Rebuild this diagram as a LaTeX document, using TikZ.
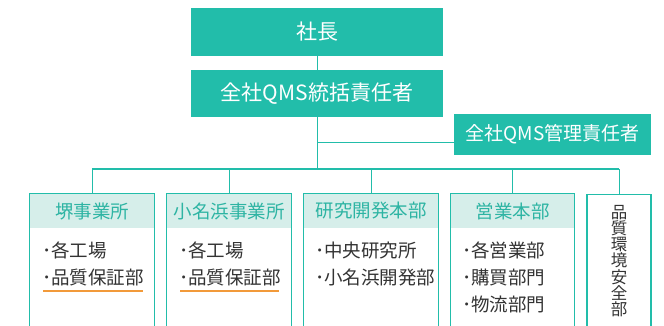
\documentclass[tikz,border=0pt]{standalone}
\usepackage{fontspec}
\setmainfont{Noto Sans CJK JP}
\definecolor{qmsteal}{HTML}{22BDAA}
\definecolor{headbg}{HTML}{D6EEEA}
\definecolor{headtxt}{HTML}{2DB4A3}
\definecolor{itemtxt}{HTML}{333333}
\definecolor{markline}{HTML}{F29A3A}
\tikzset{
	topbox/.style={fill=qmsteal, text=white, minimum width=252pt, inner sep=0pt},
	link/.style={draw=qmsteal, line width=1pt},
	depthead/.style={fill=headbg, text=headtxt, minimum width=124pt, minimum height=34pt, inner sep=0pt, font=\fontsize{18.5}{20}\selectfont},
	deptframe/.style={draw=qmsteal, line width=1.2pt},
	items/.style={text=itemtxt, align=left, inner sep=0pt, anchor=north west, font=\fontsize{18.5}{27}\selectfont},
	underline/.style={draw=markline, line width=1.4pt}
}
\begin{document}
\begin{tikzpicture}[x=1pt,y=-1pt]
	\clip (0,0) rectangle (664,326);
	\fill[white] (0,0) rectangle (664,326);

	% top of the chart
	\node[topbox, minimum height=48pt, font=\fontsize{21}{24}\selectfont] (boss) at (317,32) {社長};
	\node[topbox, minimum height=47pt, font=\fontsize{21}{24}\selectfont] (qms) at (317,93.5) {全社QMS統括責任者};
	\node[fill=qmsteal, text=white, minimum width=197pt, minimum height=41pt, inner sep=0pt, font=\fontsize{19}{22}\selectfont] (mgr) at (552.5,134.5) {全社QMS管理責任者};
	\coordinate (tap) at (317,143);
	\coordinate (bus) at (317,169);

	% departments
	\node[depthead] (sakai) at (92,211) {\raisebox{-1pt}{堺事業所}};
	\node[depthead] (onahama) at (229,211) {\raisebox{-1pt}{小名浜事業所}};
	\node[depthead, minimum width=134pt] (kenkyu) at (371,211) {\raisebox{-1pt}{研究開発本部}};
	\node[depthead, minimum width=123pt] (eigyo) at (512.5,211) {\raisebox{-1pt}{営業本部}};
	\node[deptframe, minimum width=64pt, minimum height=160pt, anchor=north] (hinshitsu) at (619,194) {};
	\foreach \n in {sakai,onahama,kenkyu,eigyo}
		\draw[deptframe] (\n.north west) rectangle ([yshift=-130pt]\n.south east);
	\node[text=itemtxt, align=center, inner sep=0pt, font=\fontsize{16.5}{16.2}\selectfont] (hinshitsutxt) at (619,261) {品\\質\\環\\境\\安\\全\\部};

	% lists
	\node[items] (sakaiitems) at (42,242) {･各工場\\･品質保証部};
	\node[items] (onahamaitems) at (179,242) {･各工場\\･品質保証部};
	\node[items] (kenkyuitems) at (315,242) {･中央研究所\\･小名浜開発部};
	\node[items] (eigyoitems) at (462,242) {･各営業部\\･購買部門\\･物流部門};
	\draw[underline] (43,291) -- (143,291);
	\draw[underline] (180,291) -- (279,291);

	% connectors
	\draw[link] (boss) -- (qms);
	\draw[link] (qms) -- (bus);
	\draw[link] (tap) -- (tap -| mgr.west);
	\draw[link] (sakai.north |- bus) -- (hinshitsu.north |- bus);
	\foreach \n in {sakai,onahama,kenkyu,eigyo,hinshitsu}
		\draw[link] (\n.north |- bus) -- (\n.north);
\end{tikzpicture}
\end{document}
